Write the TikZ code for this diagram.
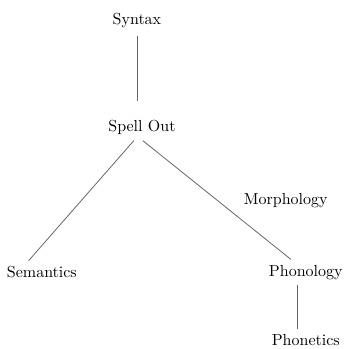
\documentclass[tikz,border=0pt]{standalone}
\usepackage{amsmath, amsfonts, amssymb}
\usetikzlibrary{positioning}

\begin{document}
\begin{tikzpicture}[
        level/.style={inner sep=3.33pt},
        link/.style={draw=black!60, line width=0.5pt}
    ]
        \useasboundingbox (0,0) rectangle (7.54,7.67);
        \node[level] (syn) at (3.01,7.23) {Syntax};
        \node[level] (so)  at (3.12,4.86) {Spell Out};
        \node[level] (sem) at (0.92,1.69) {Semantics};
        \node[level] (pho) at (6.72,1.69) {Phonology};
        \node[level] (pht) at (6.72,0.2) {Phonetics};
        \node[level] (mor) at (6.28,3.27) {Morphology};
        \draw[link] ([yshift=-0.07cm]syn.south) -- ([yshift=0.3cm]syn.south |- so.north);
        \draw[link] ([xshift=-0.18cm]so.south) -- ([xshift=-0.29cm]sem.north);
        \draw[link] ([xshift=0.02cm]so.south)  -- ([xshift=-0.33cm]pho.north);
        \draw[link] ([xshift=-0.18cm]pho.south) -- ([xshift=-0.18cm]pht.north);
    \end{tikzpicture}
\end{document}
